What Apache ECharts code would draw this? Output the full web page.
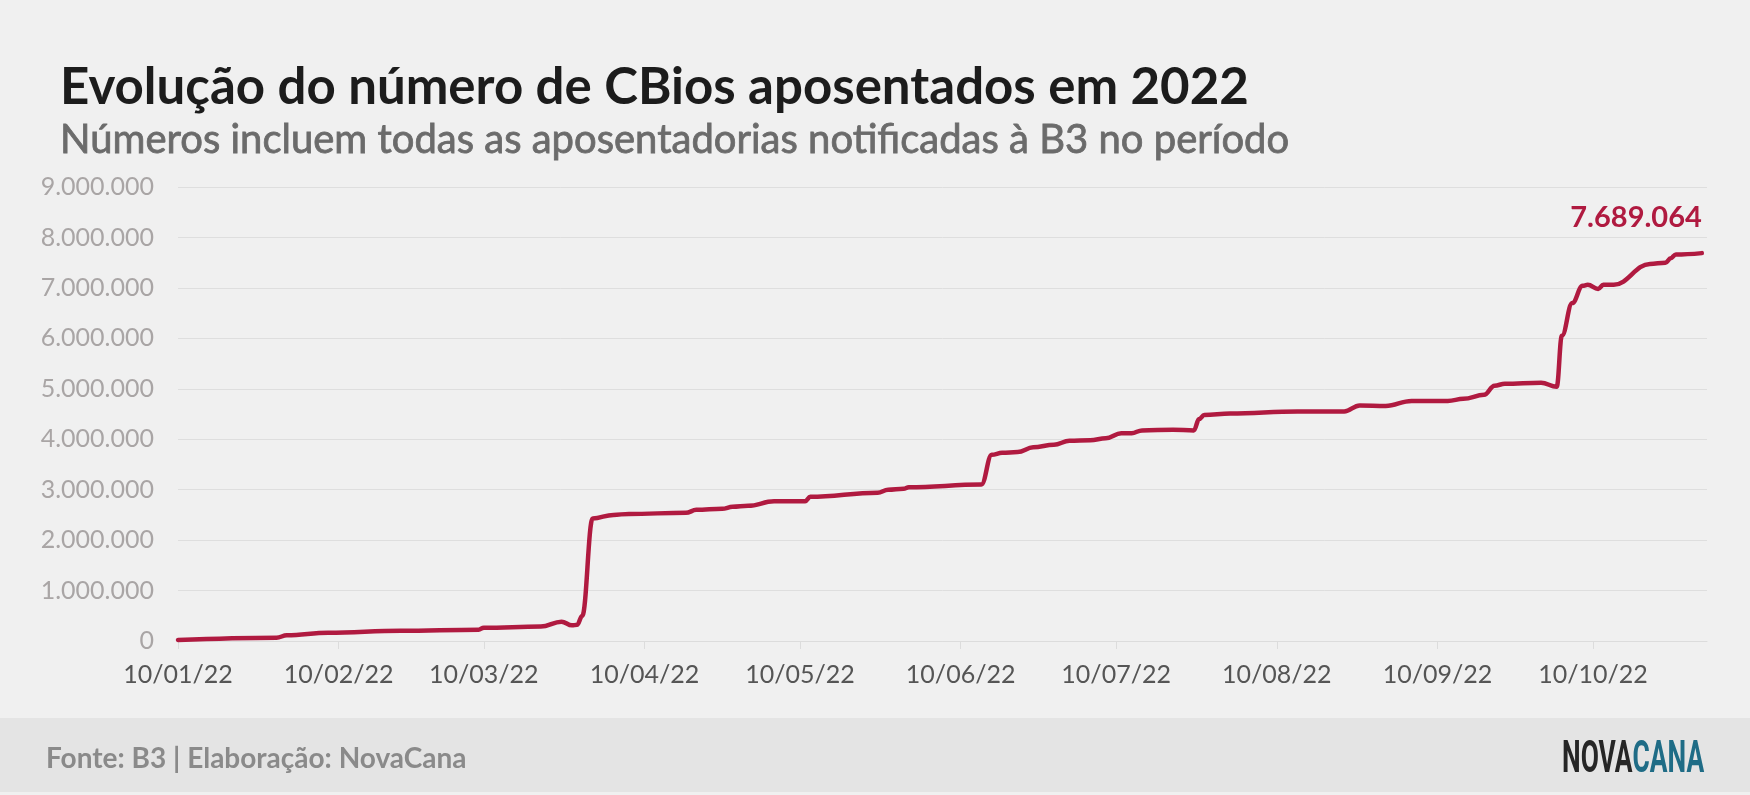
<!DOCTYPE html>
<html>
<head>
<meta charset="utf-8">
<script src="https://cdn.jsdelivr.net/npm/echarts@6/dist/echarts.min.js"></script>
<style>
html,body{margin:0;padding:0;background:#f0f0f0;}
#chart{width:1750px;height:795px;}
</style>
</head>
<body>
<div id="chart"></div>
<script>
// ---- data ----
const dates = [
  '2022-01-10','2022-01-29','2022-01-31','2022-02-08','2022-02-22','2022-03-09','2022-03-10',
  '2022-03-21','2022-03-25','2022-03-27','2022-03-28','2022-03-29','2022-03-31',
  '2022-04-04','2022-04-07','2022-04-18','2022-04-20','2022-04-25','2022-04-27','2022-04-30',
  '2022-05-05','2022-05-11','2022-05-12','2022-05-25','2022-05-27','2022-05-30','2022-05-31',
  '2022-06-14','2022-06-16','2022-06-18','2022-06-21','2022-06-24','2022-06-28',
  '2022-07-01','2022-07-05','2022-07-08','2022-07-11','2022-07-13','2022-07-15','2022-07-21',
  '2022-07-25','2022-07-26','2022-07-27','2022-08-01','2022-08-14','2022-08-23','2022-08-26',
  '2022-08-31','2022-09-05','2022-09-12','2022-09-15','2022-09-19','2022-09-21','2022-09-23',
  '2022-09-30','2022-10-03','2022-10-04','2022-10-06','2022-10-08',
  '2022-10-09','2022-10-11','2022-10-12','2022-10-14','2022-10-21','2022-10-24','2022-10-25',
  '2022-10-26','2022-10-31'
];
const values = [
  20000, 66000, 113000, 165000, 205000, 225000, 265000,
  285000, 384000, 310000, 320000, 500000, 2430000,
  2500000, 2520000, 2540000, 2600000, 2620000, 2660000, 2680000,
  2770000, 2770000, 2860000, 2940000, 3000000, 3020000, 3050000,
  3100000, 3690000, 3730000, 3745000, 3840000, 3890000,
  3970000, 3980000, 4020000, 4120000, 4120000, 4175000, 4190000,
  4175000, 4400000, 4480000, 4510000, 4550000, 4550000, 4670000,
  4660000, 4760000, 4760000, 4800000, 4880000, 5060000, 5100000,
  5120000, 5040000, 6050000, 6700000, 7040000,
  7060000, 6980000, 7060000, 7060000, 7475000, 7500000, 7590000,
  7660000, 7689064
];
const xTickDates = ['2022-01-10','2022-02-10','2022-03-10','2022-04-10','2022-05-10',
  '2022-06-10','2022-07-10','2022-08-10','2022-09-10','2022-10-10'];
const xMinDate = '2022-01-10';
const xMaxDate = '2022-11-01';
const yMax = 9000000;
const yStep = 1000000;
const titleText = 'Evolução do número de CBios aposentados em 2022';
const subtitleText = 'Números incluem todas as aposentadorias notificadas à B3 no período';
const footerText = 'Fonte: B3 | Elaboração: NovaCana';

// ---- helpers ----
function ts(s){ const p = s.split('-').map(Number); return new Date(p[0], p[1]-1, p[2]).getTime(); }
function pad(n){ return (n<10?'0':'')+n; }
function fmtDate(t){ const d = new Date(t); return pad(d.getDate())+'/'+pad(d.getMonth()+1)+'/'+String(d.getFullYear()).slice(2); }
function fmtNum(v){ return String(Math.round(v)).replace(/\B(?=(\d{3})+(?!\d))/g, '.'); }

const RED = '#b01a40';
const seriesData = dates.map((d,i)=>[ts(d), values[i]]);
const last = seriesData[seriesData.length-1];

const chart = echarts.init(document.getElementById('chart'), null, {renderer:'canvas'});
chart.setOption({
  backgroundColor: '#f0f0f0',
  animation: false,
  title: [
    { text: titleText, left: 55, top: 57,
      textStyle: { fontFamily: 'Lato', fontWeight: 'bold', fontSize: 51, color: '#1c1c1c' } },
    { text: subtitleText, left: 55, top: 115,
      textStyle: { fontFamily: 'Lato', fontWeight: 'normal', fontSize: 40, color: '#6b6b6b',
        textBorderColor: '#6b6b6b', textBorderWidth: 0.8 } }
  ],
  grid: { left: 178, right: 43, top: 187, bottom: 154, containLabel: false },
  xAxis: {
    type: 'value',
    min: ts(xMinDate), max: ts(xMaxDate),
    axisLine: { show: true, lineStyle: { color: '#dcdcdc', width: 1 } },
    axisTick: { show: true, length: 8, lineStyle: { color: '#dcdcdc' }, customValues: xTickDates.map(ts) },
    axisLabel: { customValues: xTickDates.map(ts), formatter: v => fmtDate(v),
      fontFamily: 'Lato', fontSize: 25, color: '#555555', margin: 21 },
    splitLine: { show: false }
  },
  yAxis: {
    type: 'value', min: 0, max: yMax, interval: yStep,
    axisLine: { show: false }, axisTick: { show: false },
    axisLabel: { formatter: v => fmtNum(v), fontFamily: 'Lato', fontSize: 25, color: '#a9a5a5', margin: 24 },
    splitLine: { lineStyle: { color: '#dedede', width: 1 } }
  },
  series: [{
    type: 'line',
    data: seriesData,
    showSymbol: false,
    symbol: 'none',
    smooth: 0.4,
    smoothMonotone: 'x',
    lineStyle: { color: RED, width: 4.5, cap: 'round', join: 'round' },
    itemStyle: { color: RED },
    z: 5,
    markPoint: {
      symbol: 'circle', symbolSize: 0, silent: true,
      data: [{ coord: last, value: last[1] }],
      label: { show: true, position: 'top', align: 'right', distance: 21,
        formatter: p => fmtNum(p.value),
        color: RED, fontFamily: 'Lato', fontWeight: 'bold', fontSize: 29 }
    }
  }],
  graphic: [
    { type: 'rect', left: 0, top: 718, shape: { width: 1750, height: 74 }, style: { fill: '#e4e4e4' }, silent: true },
    { type: 'text', left: 46, top: 745, style: { text: footerText, font: 'bold 28px Lato', fill: '#8a8a8a' } },
    { type: 'text', x: 1562, y: 739, scaleX: 0.6, style: {
        text: '{a|NOVA}{b|CANA}',
        rich: { a: { font: 'bold 44px Roboto', fill: '#262626' }, b: { font: 'bold 44px Roboto', fill: '#1f6c86' } }
      } }
  ]
});
</script>
</body>
</html>
